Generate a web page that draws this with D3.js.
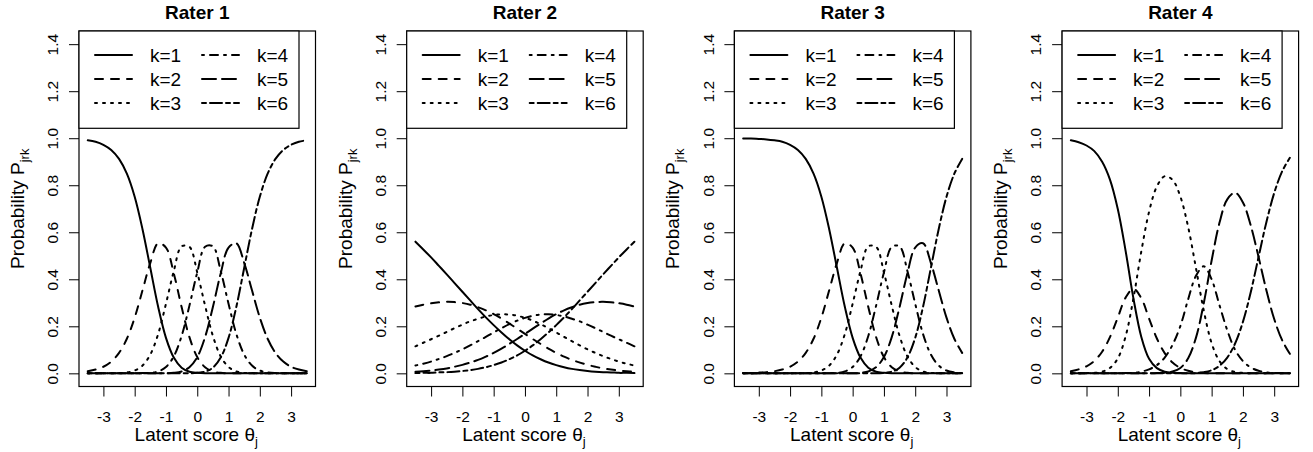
<!DOCTYPE html>
<html>
<head>
<meta charset="utf-8">
<script src="https://cdn.jsdelivr.net/npm/d3@7"></script>
<style>
body{margin:0;background:#fff;}
svg{display:block;font-family:"Liberation Sans",Arial,sans-serif;}
</style>
</head>
<body>
<div id="chart"></div>
<script>
// latent score grid shared by every curve
const theta = [-3.5,-3.25,-3,-2.75,-2.5,-2.25,-2,-1.75,-1.5,-1.25,-1,-0.75,-0.5,-0.25,0,0.25,0.5,0.75,1,1.25,1.5,1.75,2,2.25,2.5,2.75,3,3.25,3.5];

const raters     = ['Rater 1','Rater 2','Rater 3','Rater 4'];
const categories = ['k=1','k=2','k=3','k=4','k=5','k=6'];
const xTicks     = [-3,-2,-1,0,1,2,3];
const yTicks     = [0,0.2,0.4,0.6,0.8,1.0,1.2,1.4];

// Rater 1
const r1k1 = [0.991,0.985,0.972,0.950,0.912,0.849,0.751,0.613,0.448,0.283,0.151,0.067,0.024,0.007,0.002,0,0,0,0,0,0,0,0,0,0,0,0,0,0];
const r1k2 = [0.009,0.016,0.028,0.050,0.087,0.147,0.237,0.353,0.470,0.553,0.535,0.425,0.282,0.154,0.069,0.026,0.008,0.002,0,0,0,0,0,0,0,0,0,0,0];
const r1k3 = [0,0,0,0,0.001,0.004,0.012,0.033,0.080,0.167,0.296,0.435,0.540,0.538,0.429,0.288,0.159,0.072,0.027,0.008,0.002,0.001,0,0,0,0,0,0,0];
const r1k4 = [0,0,0,0,0,0,0,0.001,0.002,0.008,0.027,0.072,0.159,0.288,0.429,0.538,0.540,0.435,0.296,0.167,0.080,0.033,0.012,0.004,0.001,0,0,0,0];
const r1k5 = [0,0,0,0,0,0,0,0,0,0,0,0.002,0.008,0.026,0.069,0.154,0.282,0.425,0.535,0.553,0.470,0.353,0.237,0.147,0.087,0.050,0.028,0.016,0.009];
const r1k6 = [0,0,0,0,0,0,0,0,0,0,0,0,0,0,0.002,0.007,0.024,0.067,0.151,0.283,0.448,0.613,0.751,0.849,0.912,0.950,0.972,0.985,0.991];

// Rater 2
const r2k1 = [0.560,0.527,0.493,0.457,0.421,0.384,0.347,0.310,0.273,0.238,0.205,0.174,0.145,0.119,0.096,0.076,0.060,0.046,0.035,0.026,0.019,0.014,0.010,0.007,0.005,0.004,0.002,0.002,0.001];
const r2k2 = [0.284,0.292,0.298,0.302,0.304,0.303,0.299,0.292,0.281,0.268,0.252,0.233,0.212,0.190,0.168,0.146,0.125,0.105,0.087,0.071,0.057,0.046,0.036,0.028,0.021,0.016,0.012,0.009,0.007];
const r2k3 = [0.115,0.130,0.145,0.160,0.176,0.192,0.207,0.221,0.232,0.242,0.248,0.251,0.250,0.245,0.236,0.224,0.209,0.192,0.174,0.155,0.137,0.119,0.102,0.087,0.073,0.061,0.050,0.041,0.033];
const r2k4 = [0.033,0.041,0.050,0.061,0.073,0.087,0.102,0.119,0.137,0.155,0.174,0.192,0.209,0.224,0.236,0.245,0.250,0.251,0.248,0.242,0.232,0.221,0.207,0.192,0.176,0.160,0.145,0.130,0.115];
const r2k5 = [0.007,0.009,0.012,0.016,0.021,0.028,0.036,0.046,0.057,0.071,0.087,0.105,0.125,0.146,0.168,0.190,0.212,0.233,0.252,0.268,0.281,0.292,0.299,0.303,0.304,0.302,0.298,0.292,0.284];
const r2k6 = [0.001,0.002,0.002,0.004,0.005,0.007,0.010,0.014,0.019,0.026,0.035,0.046,0.060,0.076,0.096,0.119,0.145,0.174,0.205,0.238,0.273,0.310,0.347,0.384,0.421,0.457,0.493,0.527,0.560];

// Rater 3
const r3k1 = [0.999,0.999,0.997,0.995,0.991,0.985,0.972,0.950,0.912,0.849,0.751,0.613,0.448,0.283,0.151,0.067,0.024,0.007,0.002,0,0,0,0,0,0,0,0,0,0];
const r3k2 = [0.001,0.001,0.003,0.005,0.009,0.016,0.028,0.050,0.087,0.147,0.237,0.353,0.470,0.553,0.535,0.425,0.282,0.154,0.069,0.026,0.008,0.002,0,0,0,0,0,0,0];
const r3k3 = [0,0,0,0,0,0,0,0,0.001,0.004,0.012,0.033,0.080,0.167,0.296,0.435,0.540,0.538,0.429,0.288,0.159,0.072,0.027,0.008,0.002,0.001,0,0,0];
const r3k4 = [0,0,0,0,0,0,0,0,0,0,0,0.001,0.002,0.008,0.027,0.072,0.159,0.288,0.429,0.538,0.540,0.435,0.296,0.167,0.080,0.033,0.012,0.004,0.001];
const r3k5 = [0,0,0,0,0,0,0,0,0,0,0,0,0,0,0,0.002,0.008,0.026,0.069,0.154,0.282,0.425,0.535,0.553,0.470,0.353,0.237,0.147,0.087];
const r3k6 = [0,0,0,0,0,0,0,0,0,0,0,0,0,0,0,0,0,0,0.002,0.007,0.024,0.067,0.151,0.283,0.448,0.613,0.751,0.849,0.912];

// Rater 4
const r4k1 = [0.991,0.983,0.969,0.945,0.900,0.824,0.699,0.521,0.319,0.156,0.062,0.022,0.007,0.002,0.001,0,0,0,0,0,0,0,0,0,0,0,0,0,0];
const r4k2 = [0.009,0.017,0.030,0.053,0.092,0.154,0.237,0.322,0.360,0.320,0.233,0.148,0.086,0.046,0.023,0.011,0.004,0.001,0,0,0,0,0,0,0,0,0,0,0];
const r4k3 = [0,0,0.001,0.002,0.007,0.023,0.063,0.157,0.319,0.517,0.687,0.795,0.838,0.823,0.752,0.622,0.447,0.266,0.128,0.052,0.018,0.006,0.002,0,0,0,0,0,0];
const r4k4 = [0,0,0,0,0,0,0,0.001,0.002,0.007,0.017,0.035,0.067,0.121,0.201,0.315,0.415,0.455,0.400,0.290,0.183,0.100,0.052,0.025,0.011,0.004,0.002,0.001,0];
const r4k5 = [0,0,0,0,0,0,0,0,0,0,0,0.001,0.002,0.008,0.023,0.064,0.152,0.299,0.480,0.640,0.740,0.768,0.727,0.629,0.495,0.353,0.231,0.142,0.083];
const r4k6 = [0,0,0,0,0,0,0,0,0,0,0,0,0,0,0,0,0.001,0.005,0.013,0.032,0.067,0.127,0.219,0.345,0.495,0.643,0.767,0.858,0.917];

const curves = [
    [r1k1,r1k2,r1k3,r1k4,r1k5,r1k6],
    [r2k1,r2k2,r2k3,r2k4,r2k5,r2k6],
    [r3k1,r3k2,r3k3,r3k4,r3k5,r3k6],
    [r4k1,r4k2,r4k3,r4k4,r4k5,r4k6]
];

// R line types 1..6 (lwd 2)
const dashes = [null,'8,8','2,6','2,6,8,6','14,6','4,4,12,4'];

const W = 1313, H = 452;
const panelStep = 327.7;
const box = {left: 79, right: 315.5, top: 31, bottom: 386.5};

const svg = d3.select('#chart').append('svg')
    .attr('width', W)
    .attr('height', H);

const x = d3.scaleLinear().domain([-3.78, 3.78]).range([box.left, box.right]);
const y = d3.scaleLinear().domain([-0.056, 1.456]).range([box.bottom, box.top]);

const line = d3.line()
    .curve(d3.curveCatmullRom.alpha(0.5))
    .x((d, i) => x(theta[i]))
    .y(d => y(d));

raters.forEach((name, p) => {
    const g = svg.append('g')
        .attr('transform', 'translate(' + (p * panelStep) + ',0)');

    //clip the curves to the plot box
    g.append('clipPath')
        .attr('id', 'clip' + p)
        .append('rect')
        .attr('x', box.left).attr('y', box.top)
        .attr('width', box.right - box.left)
        .attr('height', box.bottom - box.top);

    //x axis
    const xAxis = g.append('g')
        .attr('transform', 'translate(0,' + box.bottom + ')')
        .call(d3.axisBottom(x).tickValues(xTicks).tickSize(10).tickSizeOuter(0).tickFormat(d3.format('d')));
    xAxis.select('.domain').remove();
    xAxis.selectAll('line').attr('stroke', '#000').attr('stroke-width', 1);
    xAxis.selectAll('text')
        .attr('y', 35.5).attr('dy', null)
        .attr('fill', '#000')
        .style('font-size', '15.5px')
        .text(d => d < 0 ? '-' + Math.abs(d) : d);

    //y axis with R style rotated labels
    const yAxis = g.append('g')
        .attr('transform', 'translate(' + box.left + ',0)')
        .call(d3.axisLeft(y).tickValues(yTicks).tickSize(10).tickSizeOuter(0).tickFormat(d3.format('.1f')));
    yAxis.select('.domain').remove();
    yAxis.selectAll('line').attr('stroke', '#000').attr('stroke-width', 1);
    yAxis.selectAll('text')
        .attr('x', null).attr('dy', null)
        .attr('text-anchor', 'middle')
        .attr('transform', 'translate(-20.7,0) rotate(-90)')
        .attr('fill', '#000')
        .style('font-size', '15.5px');

    //curves
    const plot = g.append('g').attr('clip-path', 'url(#clip' + p + ')');
    plot.selectAll('path.curve')
        .data(curves[p])
        .join('path')
        .attr('class', 'curve')
        .attr('d', line)
        .attr('fill', 'none')
        .attr('stroke', '#000')
        .attr('stroke-width', 2)
        .attr('stroke-linecap', 'round')
        .attr('stroke-dasharray', (d, i) => dashes[i]);

    //plot box
    g.append('rect')
        .attr('x', box.left).attr('y', box.top)
        .attr('width', box.right - box.left)
        .attr('height', box.bottom - box.top)
        .attr('fill', 'none')
        .attr('stroke', '#000')
        .attr('stroke-width', 1.2);

    //legend, two columns
    const leg = g.append('g').attr('transform', 'translate(' + box.left + ',' + box.top + ')');
    leg.append('rect')
        .attr('width', 220).attr('height', 97.3)
        .attr('fill', '#fff')
        .attr('stroke', '#000')
        .attr('stroke-width', 1.2);
    const item = leg.selectAll('g.item')
        .data(categories)
        .join('g')
        .attr('class', 'item')
        .attr('transform', (d, i) => 'translate(' + (i < 3 ? 0 : 107) + ',' + (24 + (i % 3) * 24) + ')');
    item.append('line')
        .attr('x1', 16).attr('x2', 53)
        .attr('stroke', '#000')
        .attr('stroke-width', 2)
        .attr('stroke-linecap', 'round')
        .attr('stroke-dasharray', (d, i) => dashes[i]);
    item.append('text')
        .attr('x', 71).attr('dy', '0.35em')
        .style('font-size', '19px')
        .text(d => d);

    //title
    g.append('text')
        .attr('x', (box.left + box.right) / 2).attr('y', 18.5)
        .attr('text-anchor', 'middle')
        .style('font-size', '19px')
        .style('font-weight', 'bold')
        .text(name);

    //x label
    const xl = g.append('text')
        .attr('x', (box.left + box.right) / 2 - 1).attr('y', 441)
        .attr('text-anchor', 'middle')
        .style('font-size', '19px');
    xl.append('tspan').text('Latent score \u03b8');
    xl.append('tspan').attr('dy', 5).style('font-size', '13px').text('j');

    //y label
    const yl = g.append('text')
        .attr('transform', 'translate(24,' + (box.top + box.bottom) / 2 + ') rotate(-90)')
        .attr('text-anchor', 'middle')
        .style('font-size', '19px');
    yl.append('tspan').text('Probability P');
    yl.append('tspan').attr('dy', 5).style('font-size', '13px').text('jrk');
});
</script>
</body>
</html>
